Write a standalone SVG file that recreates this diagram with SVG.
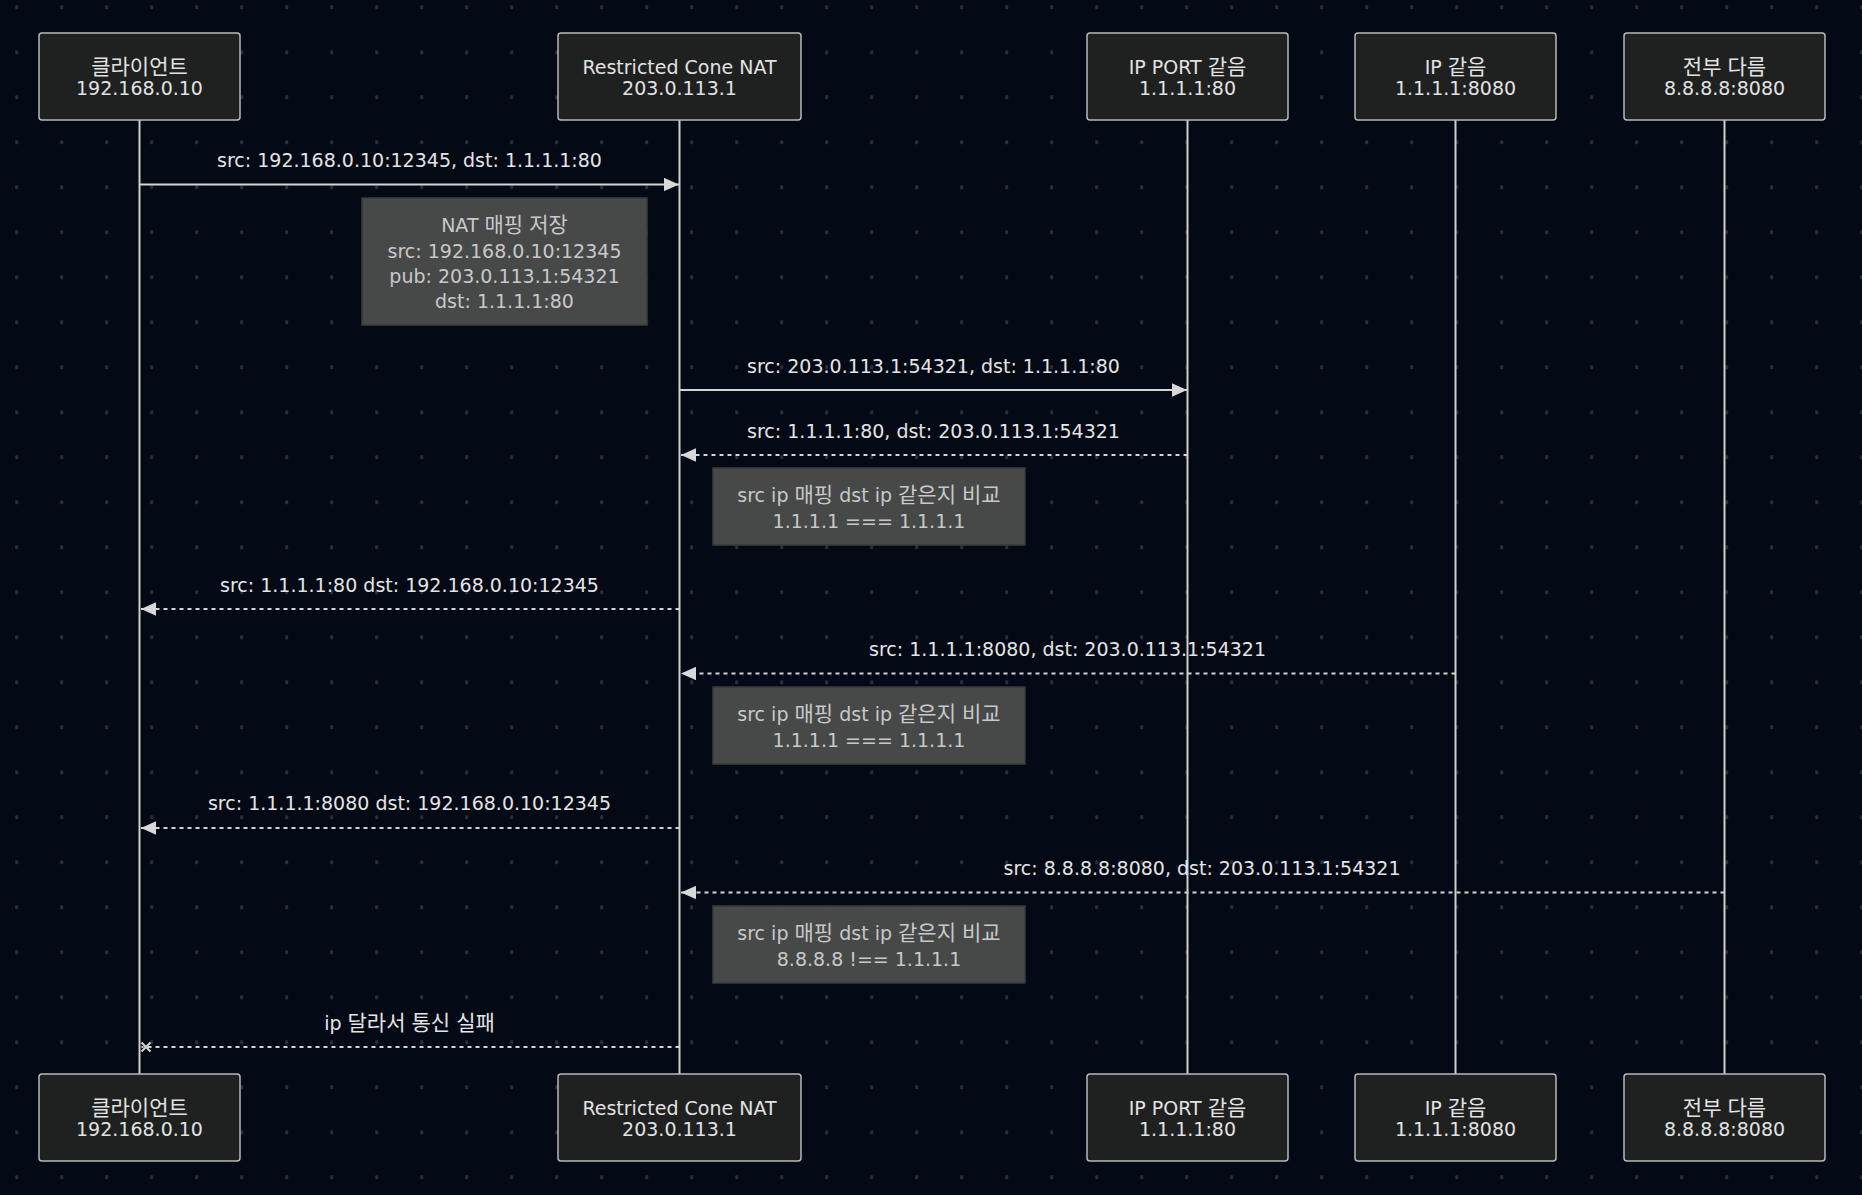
<svg xmlns="http://www.w3.org/2000/svg" width="1862" height="1195" viewBox="0 0 1862 1195">
  <style>
    text { font-family: "DejaVu Sans", "Noto Sans CJK KR", sans-serif; font-size: 19px; text-anchor: middle; }
    .k { font-family: "Noto Sans CJK KR", sans-serif; font-size: 21px; }
    .actor rect { fill: #1f2020; stroke: #b8b8b8; stroke-width: 1.5; }
    .actor text { fill: #e2e2e2; }
    .lifeline { stroke: #cfcfcf; stroke-width: 2; }
    .msg { stroke: #d4d4d4; stroke-width: 2; fill: none; }
    .dash { stroke-dasharray: 4 4; }
    .msgtext { fill: #e4e4e4; }
    .note rect { fill: #474949; stroke: #3a3b3b; stroke-width: 1.5; }
    .note text { fill: #c8c8c8; }
  </style>
  <defs>
    <pattern id="grid" x="0" y="0" width="45" height="45" patternUnits="userSpaceOnUse">
      <rect x="15.2" y="5.2" width="3" height="4" rx="1" fill="#2a2e39"/>
    </pattern>
    <marker id="arrow" viewBox="0 0 15 13.4" markerUnits="userSpaceOnUse" markerWidth="15" markerHeight="13.4" refX="15" refY="6.7" orient="auto">
      <path d="M0,0 L15,6.7 L0,13.4 Z" fill="#d8d8d8"/>
    </marker>
  </defs>

  <rect x="0" y="0" width="1862" height="1195" fill="#040916"/>
  <rect x="0" y="0" width="1862" height="1195" fill="url(#grid)"/>

  <g id="lifelines">
    <line class="lifeline" x1="139.5" y1="120" x2="139.5" y2="1074"/>
    <line class="lifeline" x1="679.5" y1="120" x2="679.5" y2="1074"/>
    <line class="lifeline" x1="1187.5" y1="120" x2="1187.5" y2="1074"/>
    <line class="lifeline" x1="1455.5" y1="120" x2="1455.5" y2="1074"/>
    <line class="lifeline" x1="1724.5" y1="120" x2="1724.5" y2="1074"/>
  </g>

  <g id="actor-client-top" class="actor">
    <rect x="39" y="33" width="201" height="87" rx="3"/>
    <text x="139.5" y="74"><tspan class="k">클라이언트</tspan></text>
    <text x="139.5" y="95">192.168.0.10</text>
  </g>
  <g id="actor-nat-top" class="actor">
    <rect x="558" y="33" width="243" height="87" rx="3"/>
    <text x="679.5" y="74">Restricted Cone NAT</text>
    <text x="679.5" y="95">203.0.113.1</text>
  </g>
  <g id="actor-ipport-top" class="actor">
    <rect x="1087" y="33" width="201" height="87" rx="3"/>
    <text x="1187.5" y="74">IP PORT <tspan class="k">같음</tspan></text>
    <text x="1187.5" y="95">1.1.1.1:80</text>
  </g>
  <g id="actor-ip-top" class="actor">
    <rect x="1355" y="33" width="201" height="87" rx="3"/>
    <text x="1455.5" y="74">IP <tspan class="k">같음</tspan></text>
    <text x="1455.5" y="95">1.1.1.1:8080</text>
  </g>
  <g id="actor-diff-top" class="actor">
    <rect x="1624" y="33" width="201" height="87" rx="3"/>
    <text x="1724.5" y="74"><tspan class="k">전부</tspan> <tspan class="k">다름</tspan></text>
    <text x="1724.5" y="95">8.8.8.8:8080</text>
  </g>

  <g id="actor-client-bottom" class="actor">
    <rect x="39" y="1074" width="201" height="87" rx="3"/>
    <text x="139.5" y="1115"><tspan class="k">클라이언트</tspan></text>
    <text x="139.5" y="1136">192.168.0.10</text>
  </g>
  <g id="actor-nat-bottom" class="actor">
    <rect x="558" y="1074" width="243" height="87" rx="3"/>
    <text x="679.5" y="1115">Restricted Cone NAT</text>
    <text x="679.5" y="1136">203.0.113.1</text>
  </g>
  <g id="actor-ipport-bottom" class="actor">
    <rect x="1087" y="1074" width="201" height="87" rx="3"/>
    <text x="1187.5" y="1115">IP PORT <tspan class="k">같음</tspan></text>
    <text x="1187.5" y="1136">1.1.1.1:80</text>
  </g>
  <g id="actor-ip-bottom" class="actor">
    <rect x="1355" y="1074" width="201" height="87" rx="3"/>
    <text x="1455.5" y="1115">IP <tspan class="k">같음</tspan></text>
    <text x="1455.5" y="1136">1.1.1.1:8080</text>
  </g>
  <g id="actor-diff-bottom" class="actor">
    <rect x="1624" y="1074" width="201" height="87" rx="3"/>
    <text x="1724.5" y="1115"><tspan class="k">전부</tspan> <tspan class="k">다름</tspan></text>
    <text x="1724.5" y="1136">8.8.8.8:8080</text>
  </g>

  <g id="note-mapping" class="note">
    <rect x="362" y="198" width="285" height="127"/>
    <text x="504.5" y="232">NAT <tspan class="k">매핑</tspan> <tspan class="k">저장</tspan></text>
    <text x="504.5" y="258">src: 192.168.0.10:12345</text>
    <text x="504.5" y="283">pub: 203.0.113.1:54321</text>
    <text x="504.5" y="308">dst: 1.1.1.1:80</text>
  </g>
  <g id="note-compare-1" class="note">
    <rect x="713" y="468" width="312" height="77"/>
    <text x="869" y="502">src ip <tspan class="k">매핑</tspan> dst ip <tspan class="k">같은지</tspan> <tspan class="k">비교</tspan></text>
    <text x="869" y="528">1.1.1.1 === 1.1.1.1</text>
  </g>
  <g id="note-compare-2" class="note">
    <rect x="713" y="687" width="312" height="77"/>
    <text x="869" y="721">src ip <tspan class="k">매핑</tspan> dst ip <tspan class="k">같은지</tspan> <tspan class="k">비교</tspan></text>
    <text x="869" y="747">1.1.1.1 === 1.1.1.1</text>
  </g>
  <g id="note-compare-3" class="note">
    <rect x="713" y="906" width="312" height="77"/>
    <text x="869" y="940">src ip <tspan class="k">매핑</tspan> dst ip <tspan class="k">같은지</tspan> <tspan class="k">비교</tspan></text>
    <text x="869" y="966">8.8.8.8 !== 1.1.1.1</text>
  </g>

  <g id="connectors">
    <line class="msg" x1="139.5" y1="184.5" x2="679" y2="184.5" marker-end="url(#arrow)"/>
    <text class="msgtext" x="409.5" y="167">src: 192.168.0.10:12345, dst: 1.1.1.1:80</text>

    <line class="msg" x1="679.5" y1="390" x2="1187" y2="390" marker-end="url(#arrow)"/>
    <text class="msgtext" x="933.5" y="373">src: 203.0.113.1:54321, dst: 1.1.1.1:80</text>

    <line class="msg dash" x1="1187.5" y1="455" x2="681" y2="455" marker-end="url(#arrow)"/>
    <text class="msgtext" x="933.5" y="438">src: 1.1.1.1:80, dst: 203.0.113.1:54321</text>

    <line class="msg dash" x1="679.5" y1="609" x2="141" y2="609" marker-end="url(#arrow)"/>
    <text class="msgtext" x="409.5" y="592">src: 1.1.1.1:80 dst: 192.168.0.10:12345</text>

    <line class="msg dash" x1="1455.5" y1="673.5" x2="681" y2="673.5" marker-end="url(#arrow)"/>
    <text class="msgtext" x="1067.5" y="656">src: 1.1.1.1:8080, dst: 203.0.113.1:54321</text>

    <line class="msg dash" x1="679.5" y1="828" x2="141" y2="828" marker-end="url(#arrow)"/>
    <text class="msgtext" x="409.5" y="810">src: 1.1.1.1:8080 dst: 192.168.0.10:12345</text>

    <line class="msg dash" x1="1724.5" y1="892.5" x2="681" y2="892.5" marker-end="url(#arrow)"/>
    <text class="msgtext" x="1202" y="875">src: 8.8.8.8:8080, dst: 203.0.113.1:54321</text>

    <line class="msg dash" x1="679.5" y1="1047" x2="141.5" y2="1047"/>
    <path class="msg" d="M141.5,1042.5 L150.5,1051.5 M150.5,1042.5 L141.5,1051.5"/>
    <text class="msgtext" x="409.5" y="1030">ip <tspan class="k">달라서</tspan> <tspan class="k">통신</tspan> <tspan class="k">실패</tspan></text>
  </g>
</svg>
